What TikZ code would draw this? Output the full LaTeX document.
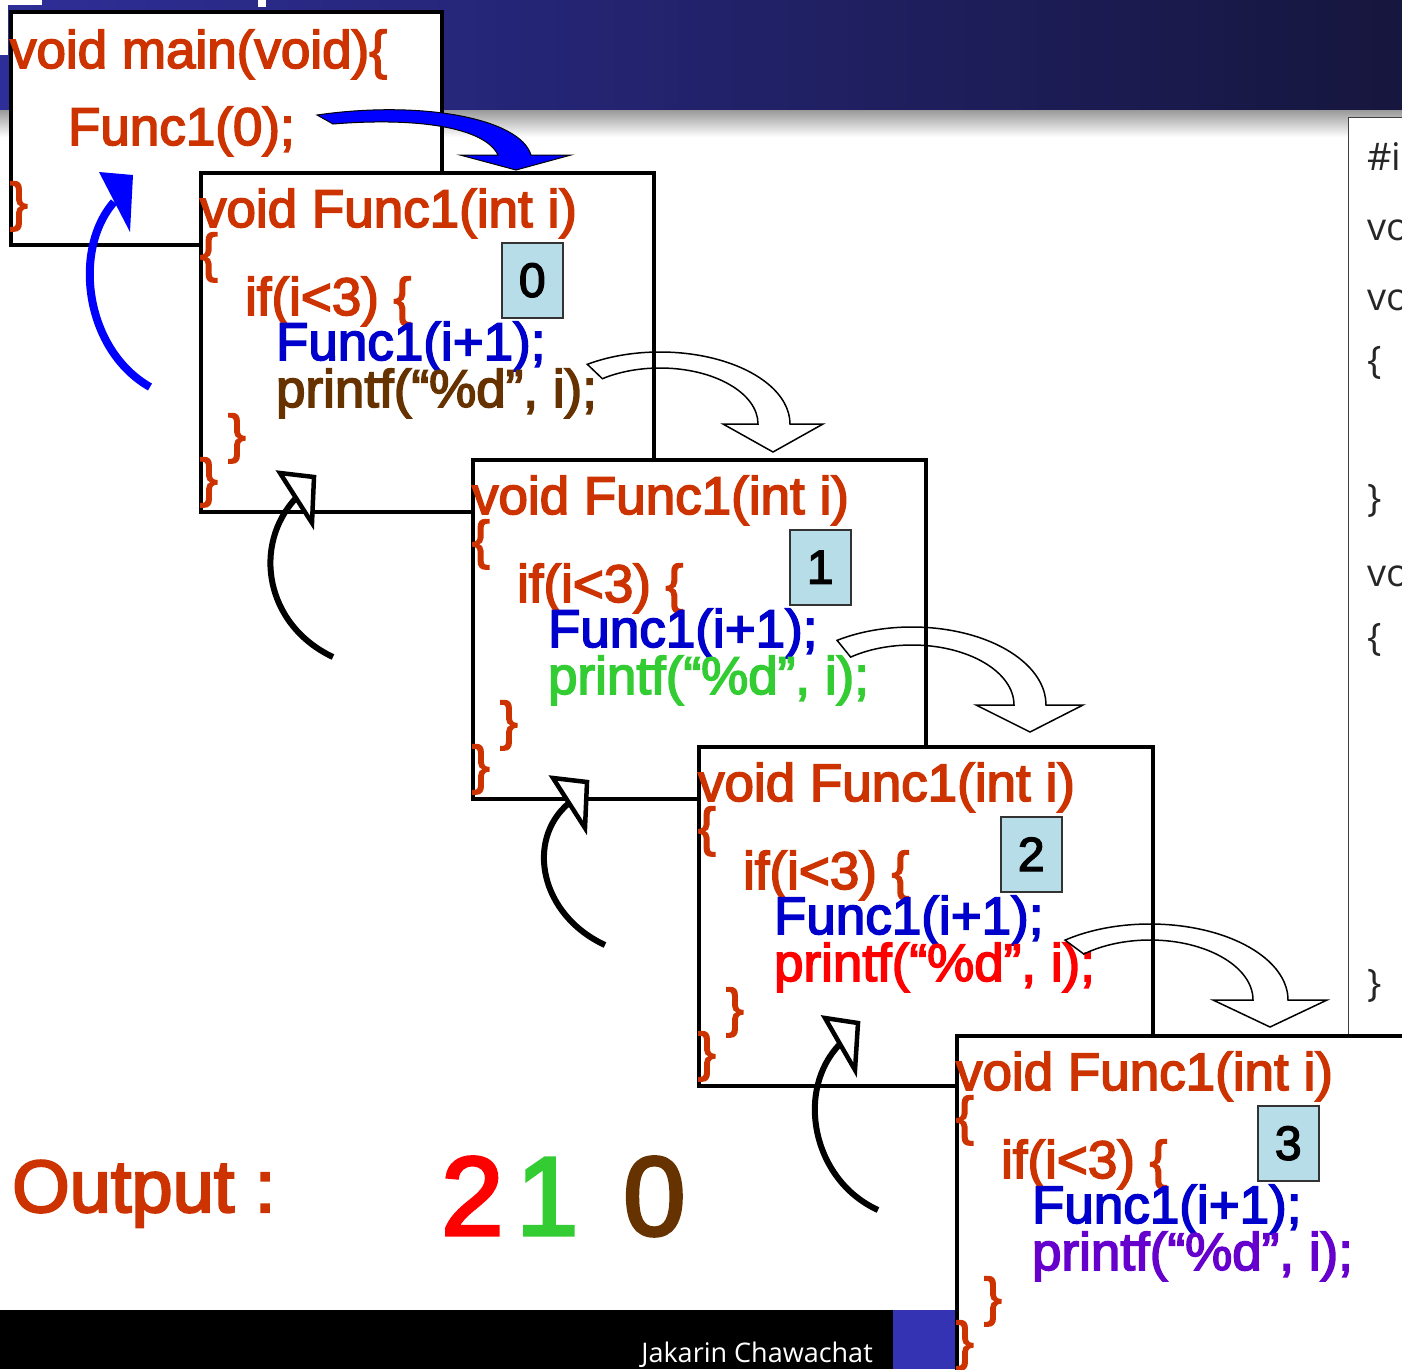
\documentclass[tikz,border=0pt]{standalone}
\usepackage{fontspec}
\setmainfont[FakeBold=3]{Liberation Sans}
\newfontfamily\panelfont{Open Sans}
\definecolor{codeorange}{RGB}{204,51,0}
\definecolor{callblue}{RGB}{0,0,204}
\definecolor{pbrown}{RGB}{102,51,0}
\definecolor{pgreen}{RGB}{51,204,51}
\definecolor{pred}{RGB}{255,0,0}
\definecolor{ppurple}{RGB}{102,0,204}
\definecolor{numblue}{RGB}{183,221,232}
\definecolor{bannerL}{RGB}{46,46,152}
\definecolor{bannerR}{RGB}{22,22,62}
\definecolor{barblue}{RGB}{51,51,179}
\definecolor{arrowblue}{RGB}{0,0,255}
\tikzset{
  codetext/.style={anchor=base west, inner sep=0pt, outer sep=0pt, font=\fontsize{53}{53}\selectfont},
  frame/.style={draw=black, line width=4pt, fill=white, anchor=north west, inner sep=0pt},
  numbox/.style={draw=black!80, line width=1.5pt, fill=numblue, minimum width=61pt, minimum height=75pt, inner sep=0pt, anchor=north west, font=\fontsize{48}{48}\selectfont},
  hollowarrow/.style={draw=black, line width=1.5pt, line join=miter},
  returnline/.style={draw=black, line width=6pt},
  returnhead/.style={draw=black, line width=4.5pt, fill=white, line join=miter},
  paneltext/.style={anchor=base west, inner sep=0pt, text=black!85, font=\panelfont\fontsize{38}{38}\selectfont},
}
\newcommand\FuncFrame[7]{%
\begin{scope}[shift={(#2,#3)}]
\node[frame, minimum width=#4pt, minimum height=339pt] (#1) at (0,0) {};
\node[codetext, codeorange] (#1-head) at (1,56) {void Func1(int i)};
\node[numbox] (#1-num) at (#7,71) {#6};
\node[codetext, codeorange] (#1-open) at (1,100) {\{};
\node[codetext, codeorange] (#1-if) at (46,144) {if(i<3) \{};
\node[codetext, callblue] (#1-call) at (77,189) {Func1(i+1);};
\node[codetext, #5] (#1-print) at (77,236) {printf(“\%d”, i);};
\node[codetext, codeorange] (#1-closeA) at (29,281) {\}};
\node[codetext, codeorange] (#1-closeB) at (1,325) {\}};
\end{scope}}
\begin{document}
\begin{tikzpicture}[x=1pt,y=-1pt]
\useasboundingbox (0,0) rectangle (1402,1369);
\clip (0,0) rectangle (1402,1369);
\fill[white] (0,0) rectangle (1402,1369);
% banner
\shade[left color=bannerL, right color=bannerR] (0,0) rectangle (1402,110);
\shade[top color=black!40, bottom color=white] (0,110) rectangle (1402,137);
\fill[white] (0,0) rectangle (42,5);
\fill[white] (0,5) rectangle (8,55);
\fill[white] (258,0) rectangle (266,7);
% bottom bar
\fill[black] (0,1310) rectangle (893,1369);
\fill[barblue] (893,1310) rectangle (960,1369);
\node[anchor=base east, inner sep=0pt, text=white, font=\panelfont\fontsize{27}{27}\selectfont] (author) at (873,1362) {Jakarin Chawachat};
% right panel
\node[draw=black!75, line width=1pt, fill=white, minimum width=80pt, minimum height=930pt, anchor=north west, inner sep=0pt] (panel) at (1348,117) {};
\node[paneltext] (p1) at (1367,170) {\#i};
\node[paneltext] (p2) at (1367,240) {vo};
\node[paneltext] (p3) at (1367,310) {vo};
\node[paneltext] (p4) at (1367,373) {\{};
\node[paneltext] (p5) at (1367,511) {\}};
\node[paneltext] (p6) at (1367,586) {vo};
\node[paneltext] (p7) at (1367,650) {\{};
\node[paneltext] (p8) at (1367,996) {\}};
% main box
\node[frame, minimum width=431pt, minimum height=233pt] (mainbox) at (9,10) {};
\node[codetext, codeorange] (main-head) at (10,68) {void main(void)\{};
\node[codetext, codeorange] (main-call) at (68,145) {Func1(0);};
\node[codetext, codeorange] (main-close) at (10,220) {\}};
% function frames
\FuncFrame{f0}{199}{171}{453}{pbrown}{0}{302}
\FuncFrame{f1}{471}{458}{453}{pgreen}{1}{318}
\FuncFrame{f2}{697}{745}{454}{pred}{2}{303}
\FuncFrame{f3}{955}{1034}{480}{ppurple}{3}{302}
% output
\node[anchor=base west, inner sep=0pt, text=codeorange, font=\fontsize{74}{74}\selectfont] (outlabel) at (12,1212) {Output :};
\node[anchor=base west, inner sep=0pt, text=pred, font=\fontsize{112}{112}\selectfont] (out2) at (441,1235) {2};
\node[anchor=base west, inner sep=0pt, text=pgreen, font=\fontsize{112}{112}\selectfont] (out1) at (516,1235) {1};
\node[anchor=base west, inner sep=0pt, text=pbrown, font=\fontsize{112}{112}\selectfont] (out0) at (623,1235) {0};
% call arrow from main (blue block arrow)
\filldraw[fill=arrowblue, draw=black, line width=1pt, line join=miter]
  (317,115) .. controls (420,100) and (520,118) .. (531,155) -- (571,155) -- (516,170) -- (460,155) -- (498,155)
  .. controls (485,128) and (420,117) .. (333,124) -- cycle;
% return arrow to main (blue)
\coordinate (b2tail) at (150,387);
\coordinate (b2end) at (114,202);
\draw[line width=8pt, arrowblue] (b2tail) .. controls (85,350) and (72,250) .. (b2end);
\fill[arrowblue] (99,172) -- (133,175) -- (130,232) -- cycle;
% hollow call arrows
\draw[hollowarrow] (660,424) ++(-124:130 and 72) arc[start angle=-124, end angle=0, x radius=130, y radius=72]
  -- (823,424) -- (773,452) -- (723,424) -- (758,424) arc[start angle=0, end angle=-126, x radius=98, y radius=56] -- cycle;
\draw[hollowarrow] (912,705) ++(-124:134 and 78) arc[start angle=-124, end angle=0, x radius=134, y radius=78]
  -- (1083,705) -- (1030,732) -- (976,705) -- (1014,705) arc[start angle=0, end angle=-127, x radius=102, y radius=60] -- cycle;
\draw[hollowarrow] (1150,1000) ++(-128:138 and 76) arc[start angle=-128, end angle=0, x radius=138, y radius=76]
  -- (1327,1000) -- (1270,1027) -- (1213,1000) -- (1253,1000) arc[start angle=0, end angle=-130, x radius=103, y radius=60] -- cycle;
% black return arrows
\coordinate (r1tail) at (333,657); \coordinate (r1end) at (296,498);
\draw[returnline] (r1tail) .. controls (265,625) and (252,545) .. (r1end);
\draw[returnhead] (280,473) -- (314,477) -- (312,523) -- cycle;
\coordinate (r2tail) at (605,945); \coordinate (r2end) at (569,803);
\draw[returnline] (r2tail) .. controls (540,915) and (525,840) .. (r2end);
\draw[returnhead] (553,778) -- (587,782) -- (585,828) -- cycle;
\coordinate (r3tail) at (878,1210); \coordinate (r3end) at (840,1044);
\draw[returnline] (r3tail) .. controls (812,1180) and (795,1090) .. (r3end);
\draw[returnhead] (825,1018) -- (858,1023) -- (855,1070) -- cycle;
\end{tikzpicture}
\end{document}
